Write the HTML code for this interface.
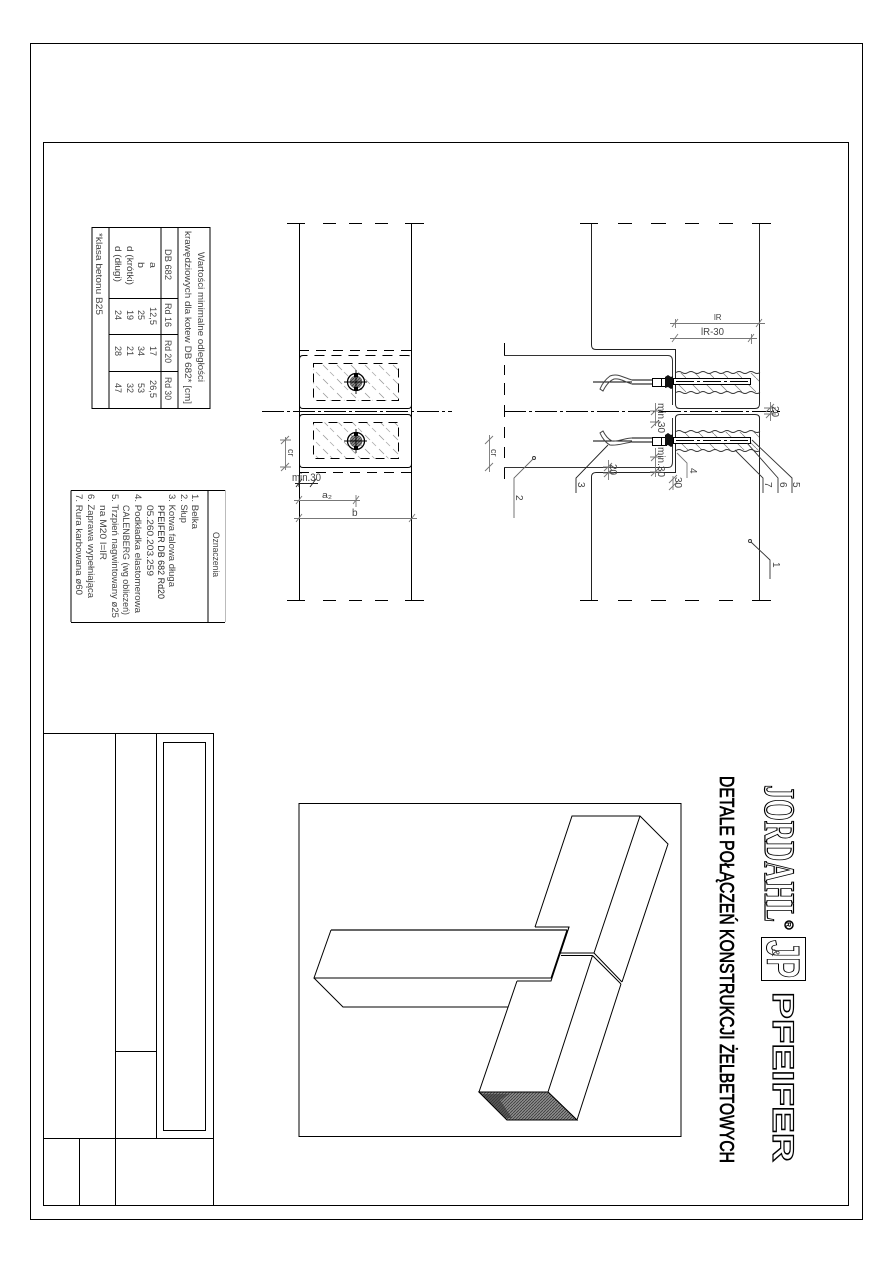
<!DOCTYPE html>
<html><head><meta charset="utf-8"><style>
html,body{margin:0;padding:0;background:#fff}
svg{display:block}
text{font-family:"Liberation Sans",sans-serif;fill:#444;font-size:9px}
.c line,.c rect,.c path{shape-rendering:crispEdges}
</style></head><body>
<svg width="893" height="1263" viewBox="0 0 893 1263" xmlns="http://www.w3.org/2000/svg">
<defs>
<pattern id="h" width="14" height="14" patternUnits="userSpaceOnUse"><path d="M1 1l5 5" stroke="#999" stroke-width=".8"/><path d="M8 8l4 4" stroke="#aaa" stroke-width=".8"/></pattern>
<pattern id="h2" width="14" height="14" patternUnits="userSpaceOnUse"><path d="M0 0l14 14" stroke="#777" stroke-width=".7"/></pattern>
<pattern id="g" width="3" height="3" patternUnits="userSpaceOnUse"><rect width="3" height="3" fill="#8a8a8a"/><path d="M0 3l3-3" stroke="#333" stroke-width=".7"/></pattern>
</defs>
<g class="c" fill="none" stroke="#000" stroke-width="1">
<rect x="30.5" y="43.5" width="832" height="1176"/>
<rect x="43.5" y="142.5" width="805" height="1063"/>
<path d="M43.5 733.5H213.5V1205M115.5 733.5V1205M156.5 733.5V1138M43.5 1138.5H213.5M79.5 1138.5V1205M115.5 1051.5H156.5"/>
<rect x="163.5" y="742.5" width="42" height="388"/>
<rect x="92" y="227.5" width="118" height="181"/>
<path d="M109 227V408M161 227V408M178 227V408M109 298.5H178M109 334.5H178M109 371.5H178"/>
<path d="M71 490.5V622M208 490V622M71 490.5H225M71 622.5H225"/>
<path d="M225.5 490V622" stroke="#bbb"/>
<rect x="299" y="803.5" width="382" height="333"/>
</g>

<g>
<text transform="translate(198,252) rotate(90)" textLength="130" lengthAdjust="spacingAndGlyphs">Wartości minimalne odległości</text>
<text transform="translate(185,231) rotate(90)" textLength="173" lengthAdjust="spacingAndGlyphs">krawędziowych dla kotew DB 682* [cm]</text>
<text transform="translate(165,249) rotate(90)" textLength="31" lengthAdjust="spacingAndGlyphs">DB 682</text>
<text transform="translate(165,303) rotate(90)" textLength="24" lengthAdjust="spacingAndGlyphs">Rd 16</text>
<text transform="translate(165,340) rotate(90)" textLength="23" lengthAdjust="spacingAndGlyphs">Rd 20</text>
<text transform="translate(165,377) rotate(90)" textLength="23" lengthAdjust="spacingAndGlyphs">Rd 30</text>
<text transform="translate(150,262) rotate(90)" textLength="6" lengthAdjust="spacingAndGlyphs">a</text>
<text transform="translate(138,262) rotate(90)" textLength="6" lengthAdjust="spacingAndGlyphs">b</text>
<text transform="translate(127,246) rotate(90)" textLength="39" lengthAdjust="spacingAndGlyphs">d (krótki)</text>
<text transform="translate(115,246) rotate(90)" textLength="36" lengthAdjust="spacingAndGlyphs">d (długi)</text>
<text transform="translate(150,307) rotate(90)" textLength="18" lengthAdjust="spacingAndGlyphs">12,5</text>
<text transform="translate(138,310) rotate(90)" textLength="10">25</text>
<text transform="translate(127,310) rotate(90)" textLength="10">19</text>
<text transform="translate(115,310) rotate(90)" textLength="10">24</text>
<text transform="translate(150,346) rotate(90)" textLength="10">17</text>
<text transform="translate(138,346) rotate(90)" textLength="10">34</text>
<text transform="translate(127,346) rotate(90)" textLength="10">21</text>
<text transform="translate(115,346) rotate(90)" textLength="10">28</text>
<text transform="translate(150,380) rotate(90)" textLength="18" lengthAdjust="spacingAndGlyphs">26,5</text>
<text transform="translate(138,383) rotate(90)" textLength="10">53</text>
<text transform="translate(127,383) rotate(90)" textLength="10">32</text>
<text transform="translate(115,383) rotate(90)" textLength="10">47</text>
<text transform="translate(96,233) rotate(90)" textLength="82" lengthAdjust="spacingAndGlyphs">*klasa betonu B25</text>

<text transform="translate(213,532) rotate(90)" textLength="45" lengthAdjust="spacingAndGlyphs">Oznaczenia</text>
<text transform="translate(192,494) rotate(90)" textLength="35" lengthAdjust="spacingAndGlyphs">1. Belka</text>
<text transform="translate(181,494) rotate(90)" textLength="29" lengthAdjust="spacingAndGlyphs">2. Słup</text>
<text transform="translate(169,494) rotate(90)" textLength="93" lengthAdjust="spacingAndGlyphs">3. Kotwa falowa długa</text>
<text transform="translate(158,505) rotate(90)" textLength="94" lengthAdjust="spacingAndGlyphs" style="fill:#222">PFEIFER DB 682 Rd20</text>
<text transform="translate(147,505) rotate(90)" textLength="71" lengthAdjust="spacingAndGlyphs">05.260.203.259</text>
<text transform="translate(135,494) rotate(90)" textLength="119" lengthAdjust="spacingAndGlyphs">4. Podkładka elastomerowa</text>
<text transform="translate(123,505) rotate(90)" textLength="110" lengthAdjust="spacingAndGlyphs">CALENBERG (wg obliczeń)</text>
<text transform="translate(112,494) rotate(90)" textLength="124" lengthAdjust="spacingAndGlyphs">5. Trzpień nagwintowany ø25</text>
<text transform="translate(100,505) rotate(90)" textLength="55" lengthAdjust="spacingAndGlyphs">na M20 l=lR</text>
<text transform="translate(88,494) rotate(90)" textLength="104" lengthAdjust="spacingAndGlyphs">6. Zaprawa wypełniająca</text>
<text transform="translate(76,494) rotate(90)" textLength="101" lengthAdjust="spacingAndGlyphs">7. Rura karbowana ø60</text>
</g>

<!-- left elevation -->
<g fill="none" stroke="#000">
<path d="M299.5 224V600M411.5 224V600" shape-rendering="crispEdges"/>
<path d="M287 223.5H305M323 223.5H336M349 223.5H362M375 223.5H388M405 223.5H424M287 600.5H305M323 600.5H336M349 600.5H362M375 600.5H388M405 600.5H424" shape-rendering="crispEdges"/>
<path d="M299 350.5H412M299 472.5H412" stroke-dasharray="10 7" shape-rendering="crispEdges"/>
<path d="M299.5 359Q299.5 355.5 303 355.5H408Q411.5 355.5 411.5 359" stroke-dasharray="10 7"/>
<path d="M303 408.5H408M299.5 405Q299.5 408.5 303 408.5M411.5 405Q411.5 408.5 408 408.5M303 414.5H408M299.5 418Q299.5 414.5 303 414.5M411.5 418Q411.5 414.5 408 414.5M303 467.5H408M299.5 464Q299.5 467.5 303 467.5M411.5 464Q411.5 467.5 408 467.5"/>
<path d="M262 411.5H452" stroke-dasharray="22 3 3 3" shape-rendering="crispEdges"/>
<rect x="313.5" y="363.5" width="85" height="37" fill="url(#h)" stroke-dasharray="9 6"/>
<rect x="313.5" y="422.5" width="85" height="36" fill="url(#h)" stroke-dasharray="9 6"/>
<circle cx="356" cy="382" r="8.5" stroke-width="1.3"/><circle cx="356" cy="441" r="8.5" stroke-width="1.3"/>
<circle cx="356" cy="382" r="6" fill="url(#g)" stroke="#555" stroke-width=".6"/><circle cx="356" cy="441" r="6" fill="url(#g)" stroke="#555" stroke-width=".6"/>
<path d="M344 382H367M356 370V394M344 441H367M356 429V453" stroke-width=".9"/>
</g>
<g fill="#000"><rect x="354" y="373" width="4" height="4"/><rect x="354" y="387" width="4" height="4"/><rect x="354" y="432" width="4" height="4"/><rect x="354" y="446" width="4" height="4"/></g>
<g fill="none" stroke="#777" stroke-width=".9">
<path d="M285.5 437V470M281 444L289 436M281 471L289 463M280 440H291M280 467H291"/>
<path d="M295 483.5H318M296 487L302 479M310 487L316 479M299 480V487" stroke="#222"/>
<path d="M294 500.5H360M296 504L302 496M353 504L359 496M356 495V507"/>
<path d="M294 518.5H417M296 522L302 514M409 522L415 514"/>
</g>
<text transform="translate(288,449) rotate(90)" font-size="8">cr</text>
<text x="292" y="481" textLength="29" lengthAdjust="spacingAndGlyphs" style="font-size:11px">min.30</text>
<text x="322" y="498" textLength="10" lengthAdjust="spacingAndGlyphs">a₂</text>
<text x="352" y="516" style="font-size:10px">b</text>

<!-- right elevation -->
<g fill="none" stroke="#000">
<path d="M580 223.5H598M618 223.5H632M651 223.5H666M685 223.5H699M719 223.5H733M752 223.5H771M580 600.5H598M618 600.5H632M651 600.5H666M685 600.5H699M719 600.5H733M752 600.5H771" shape-rendering="crispEdges"/>
<path d="M591.5 224V345Q591.5 349.5 596 349.5H675.5V404Q675.5 408.5 680 408.5H755Q759.5 408.5 759.5 404V224" stroke="#222"/>
<path d="M759.5 600V418Q759.5 414.5 755 414.5H680Q675.5 414.5 675.5 418V472.5H596Q591.5 472.5 591.5 477V600" stroke="#222"/>
<path d="M504 355.5H668Q672.5 355.5 672.5 361V405M672.5 418V462Q672.5 467.5 668 467.5H504" stroke="#333"/>
<path d="M504.5 343V355M504.5 365V375M504.5 383V395M504.5 405V417M504.5 427V438M504.5 447V458M504.5 468V479" shape-rendering="crispEdges"/>
<path d="M504 411.5H780" stroke-dasharray="22 3 3 3" shape-rendering="crispEdges"/>
<rect x="676" y="373" width="83" height="19" fill="url(#h2)" stroke="none"/>
<rect x="676" y="432" width="83" height="18" fill="url(#h2)" stroke="none"/>
<path d="M676 372.5q3-2 6 0t6 0 6 0 6 0 6 0 6 0 6 0 6 0 6 0 6 0 6 0 6 0 6 0 6 0M676 392.5q3-2 6 0t6 0 6 0 6 0 6 0 6 0 6 0 6 0 6 0 6 0 6 0 6 0 6 0 6 0M676 431.5q3-2 6 0t6 0 6 0 6 0 6 0 6 0 6 0 6 0 6 0 6 0 6 0 6 0 6 0 6 0M676 450.5q3-2 6 0t6 0 6 0 6 0 6 0 6 0 6 0 6 0 6 0 6 0 6 0 6 0 6 0 6 0" stroke-width=".9" stroke="#333"/>
<rect x="673.5" y="378.5" width="77" height="6" fill="#fff" />
<rect x="673.5" y="437.5" width="77" height="6" fill="#fff"/>
<path d="M676 381.5H750M676 440.5H750" stroke-dasharray="18 3 3 3" stroke-width=".9"/>
<rect x="652.5" y="378.5" width="9" height="8" fill="#fff"/><rect x="661.5" y="378.5" width="5" height="8" fill="#fff"/>
<rect x="652.5" y="437.5" width="9" height="8" fill="#fff"/><rect x="661.5" y="437.5" width="5" height="8" fill="#fff"/>
<path d="M632 380H652M632 384H652M632 438H652M632 442H652" stroke-width=".9"/>
<path d="M593 382H632M593 441H632" stroke-width=".9"/>
<path d="M632 380C622 377 617 373 610 376C606 379 602 384 600 389L603 391C606 385 609 381 614 379C620 378 625 382 632 384" stroke="#444"/>
<path d="M632 438C625 438 618 442 612 441C608 439 605 435 603 431L600 433C602 438 606 443 610 445C617 446 624 443 632 442" stroke="#444"/>
</g>
<g fill="#111">
<path d="M665 377l3-2 3 2 2-1v12l-2 1-3-2-3 1zM665 435l3-2 3 2 2-1v12l-2 1-3-2-3 1z"/>
</g>
<g fill="none" stroke="#777" stroke-width=".9">
<path d="M670 323.5H765M670 338.5H757M672 327l6-8M756 327l6-8M672 342l6-8M748 342l6-8M675.5 319V328M751.5 334V344"/>
<path d="M489.5 435V472M485 444l8-8M485 471l8-8"/>
<circle cx="534" cy="458" r="1.5" stroke="#333"/>
<path d="M533 459L514 478V518" stroke="#666"/>
<path d="M608 445L576 478V493" stroke="#222"/>
<path d="M677 453L687 463V478" />
<path d="M735 450L763 478V493" stroke="#333"/>
<path d="M747 443L778 478V493" stroke="#333"/>
<path d="M752 440L792 478V493" stroke="#333"/>
<circle cx="750" cy="541" r="1.5" stroke="#333"/>
<path d="M751 542L770 560V579" stroke="#333"/>
<path d="M655.5 403V426M651 415l8-8M651 428l8-8M650 411H661M650 422H661"/>
<path d="M655.5 448V477M651 461l8-8M651 476l8-8M650 457H661M650 472H661"/>
<path d="M608.5 460V480M604 471l8-8M604 477l8-8M603 467H614M603 473H614"/>
<path d="M673 476V490M669 490l8-8M669 483l8-8"/>
<path d="M770.5 402V421M766 412l8-8M766 418l8-8M764 408H776M764 414H776"/>
</g>
<g>
<text transform="translate(491,449) rotate(90)" font-size="8">cr</text>
<text transform="translate(658,403) rotate(90)" textLength="30" lengthAdjust="spacingAndGlyphs" style="font-size:10px">min.30</text>
<text transform="translate(658,447) rotate(90)" textLength="30" lengthAdjust="spacingAndGlyphs" style="font-size:10px">min.30</text>
<text transform="translate(610,464) rotate(90)" style="font-size:10px">20</text>
<text transform="translate(675,477) rotate(90)" style="font-size:10px">30</text>
<text transform="translate(772,406) rotate(90)" style="font-size:10px">20</text>
<text transform="translate(516,495) rotate(90)" style="font-size:10px">2</text>
<text transform="translate(578,482) rotate(90)" style="font-size:10px">3</text>
<text transform="translate(690,468) rotate(90)" style="font-size:10px">4</text>
<text transform="translate(793,482) rotate(90)" style="font-size:10px">5</text>
<text transform="translate(780,482) rotate(90)" style="font-size:10px">6</text>
<text transform="translate(765,482) rotate(90)" style="font-size:10px">7</text>
<text transform="translate(773,562) rotate(90)" style="font-size:10px">1</text>
<text x="714" y="320" style="font-size:8px">lR</text>
<text x="701" y="335" textLength="23" lengthAdjust="spacingAndGlyphs" style="font-size:10px">lR-30</text>
</g>

<!-- isometric -->
<g fill="none" stroke="#000" stroke-width="1">
<path d="M535 927L572 816H640L668 844L622 982M640 816L594 953"/>
<path d="M535 927H569L560 954M560 953H594M561 955.5H592.5"/>
<path d="M594 953L622 982M592.5 955.5L621 984"/>
<path d="M331 930H567" stroke="#333" stroke-width="1.4"/>
<path d="M331 930L314 978H551L567 930M314 978L343 1007H508M569 927L551 981H517"/>
<path d="M517 981L479 1092H548L592.5 955.5M621 984L577 1120L548 1092M479 1092L507 1120H577"/>
</g>
<path d="M479 1092H548L577 1120H507Z" fill="url(#g)" stroke="#000"/>
<path d="M482 1094H510L500 1100L512 1118H505Z" fill="#333" opacity=".6"/>

<!-- logos -->
<g>
<text transform="translate(765,785) rotate(90)" textLength="137" lengthAdjust="spacingAndGlyphs" style="font-family:'Liberation Serif',serif;font-size:43px;font-weight:bold;fill:#fff;stroke:#000;stroke-width:1.2">JORDAHL</text>
<circle cx="789" cy="925" r="4" fill="#fff" stroke="#000" stroke-width="1.5"/>
<text transform="translate(786,922) rotate(90)" style="font-size:7px;fill:#000;font-weight:bold">R</text>
<rect x="761.5" y="937.5" width="44" height="43" fill="#fff" stroke="#000"/>
<text transform="translate(767,940) rotate(90)" textLength="38" lengthAdjust="spacingAndGlyphs" style="font-size:46px;font-weight:bold;fill:#fff;stroke:#000;stroke-width:1">JP</text>
<text transform="translate(772,949) rotate(90)" style="font-size:11px;fill:#333">&amp;</text>
<text transform="translate(773,992) rotate(90)" textLength="170" lengthAdjust="spacingAndGlyphs" style="font-size:30px;font-weight:bold;fill:#fff;stroke:#000;stroke-width:1.2">PFEIFER</text>
<text transform="translate(720,776) rotate(90)" textLength="387" lengthAdjust="spacingAndGlyphs" style="font-size:20px;fill:#000;stroke:#000;stroke-width:.7">DETALE POŁĄCZEŃ KONSTRUKCJI ŻELBETOWYCH</text>
</g>
</svg>
</body></html>
